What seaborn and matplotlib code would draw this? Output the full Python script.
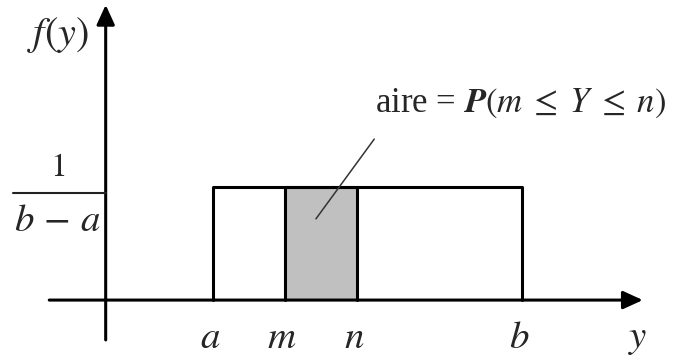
import matplotlib
matplotlib.use("Agg")
import matplotlib.pyplot as plt
import seaborn as sns

sns.set_style("white")
plt.rcParams["mathtext.fontset"] = "stix"
plt.rcParams["font.family"] = ["Liberation Serif", "DejaVu Serif"]

# uniform law on [a, b], shaded part on [m, n]
bounds = ["a", "m", "n", "b"]
bound_values = [1.49, 2.49, 3.49, 5.78]
a, m, n, b = bound_values
h = 0.232  # drawn height of 1/(b-a)

fig = plt.figure(figsize=(6.78, 3.56), dpi=100)
ax = fig.add_axes([0, 0, 1, 1])
ax.set_xlim(-1.468, 7.949)
ax.set_ylim(-0.115, 0.617)
ax.axis("off")

# shaded probability area
ax.fill_between([m, n], [0, 0], [h, h], color="#c0c0c0", lw=0, zorder=1)
ax.plot([m, m, n, n], [0, h, h, 0], color="black", lw=2.2, zorder=3)

# density outline
sns.lineplot(x=[a, a, b, b], y=[0, h, h, 0], sort=False, estimator=None,
             color="black", lw=2.2, ax=ax, zorder=3)

# axes with arrows
arrow = dict(arrowstyle="-|>,head_length=1.2,head_width=0.55", color="black",
             lw=2.2, shrinkA=0, shrinkB=0)
ax.annotate("", xy=(7.46, 0), xytext=(-0.784, 0), arrowprops=arrow, zorder=2)
ax.annotate("", xy=(0, 0.607), xytext=(0, -0.082), arrowprops=arrow, zorder=2)

# 1/(b-a) marker on the vertical axis
ax.plot([-1.29, 0], [0.220, 0.220], color="#222222", lw=1.5)
ax.text(-0.663, 0.272, "$1$", ha="center", va="center", fontsize=24)
ax.text(-0.663, 0.162, r"$b\,-\,a$", ha="center", va="center", fontsize=28)
ax.text(-0.66, 0.545, "$f(y)$", ha="center", va="center", fontsize=29)

# bound labels on the horizontal axis
for name, val in zip(bounds, bound_values):
    ax.text(val - 0.04, -0.078, f"${name}$", ha="center", va="center", fontsize=28)
ax.text(7.39, -0.08, "$y$", ha="center", va="center", fontsize=28)

# leader and annotation
ax.plot([2.92, 3.73], [0.167, 0.331], color="#333333", lw=1.1, zorder=4)
ax.text(5.76, 0.405, r"aire = $\boldsymbol{P}(m\;\leq\;Y\;\leq\;n)$",
        ha="center", va="center", fontsize=25)

fig.savefig("out.png", dpi=100)
